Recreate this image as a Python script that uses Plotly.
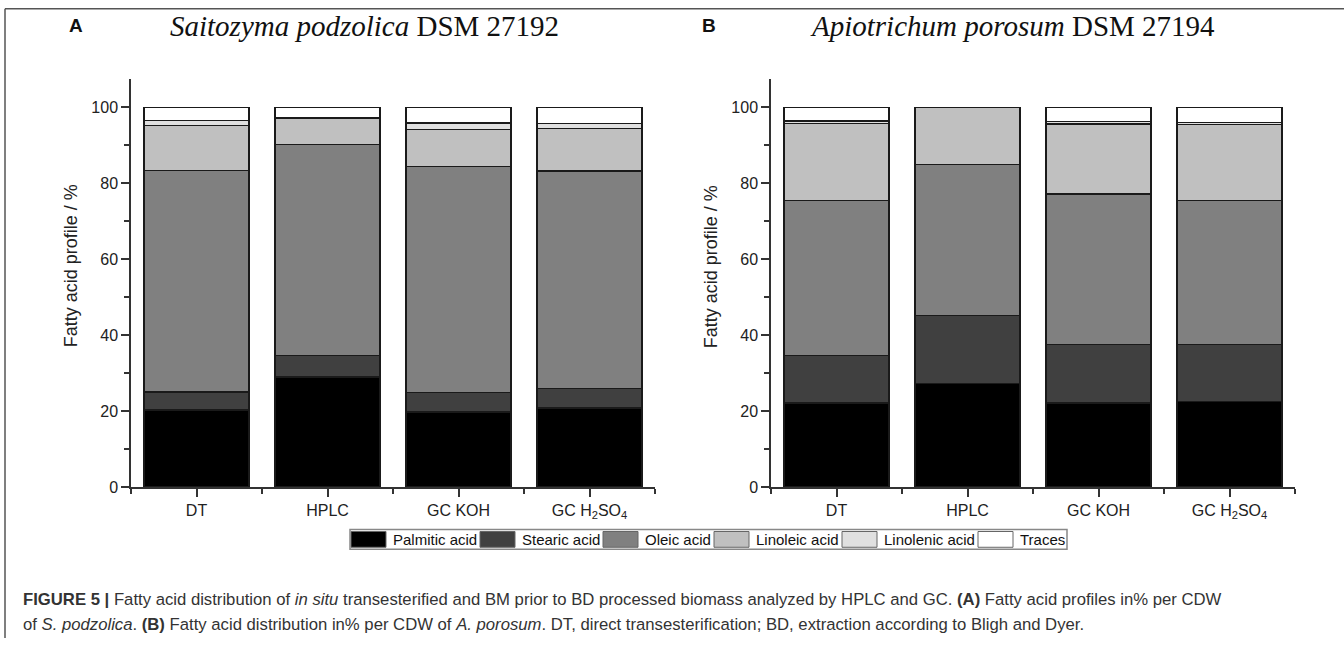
import plotly.graph_objects as go
import numpy as np

W, H = 1344, 647

categories = ["DT", "HPLC", "GC KOH", "GC H<sub>2</sub>SO<sub>4</sub>"]
series_names = ["Palmitic acid", "Stearic acid", "Oleic acid", "Linoleic acid", "Linolenic acid", "Traces"]
series_colors = ["#000000", "#404040", "#808080", "#c0c0c0", "#e0e0e0", "#ffffff"]

# Panel A: Saitozyma podzolica (segment heights, %)
a_palmitic = [20.3, 29.0, 19.8, 20.8]
a_stearic = [4.8, 5.7, 5.1, 5.2]
a_oleic = [58.2, 55.6, 59.5, 57.2]
a_linoleic = [11.9, 6.9, 9.8, 11.3]
a_linolenic = [1.3, 0.0, 1.7, 1.3]
a_traces = [3.5, 2.8, 4.1, 4.2]

# Panel B: Apiotrichum porosum (segment heights, %)
b_palmitic = [22.1, 27.3, 22.1, 22.5]
b_stearic = [12.6, 17.9, 15.5, 15.1]
b_oleic = [40.8, 39.7, 39.6, 37.8]
b_linoleic = [20.3, 15.1, 18.4, 20.1]
b_linolenic = [0.6, 0.0, 0.6, 0.5]
b_traces = [3.6, 0.0, 3.8, 4.0]

y_ticks = [0, 20, 40, 60, 80, 100]

panel_a = [a_palmitic, a_stearic, a_oleic, a_linoleic, a_linolenic, a_traces]
panel_b = [b_palmitic, b_stearic, b_oleic, b_linoleic, b_linolenic, b_traces]

def px(x):
    return x / W

def py(y):
    return 1 - y / H

xpos = np.arange(len(categories)) + 0.5

fig = go.Figure()
for panel, (xa, ya) in ((panel_a, ("x", "y")), (panel_b, ("x2", "y2"))):
    for name, color, vals in zip(series_names, series_colors, panel):
        fig.add_trace(go.Bar(
            x=xpos, y=vals, name=name, xaxis=xa, yaxis=ya, width=0.8,
            marker=dict(color=color, line=dict(color="#1a1a1a", width=1.4)),
            showlegend=False, hoverinfo="skip"))

axis_font = dict(family="Liberation Sans, Arial", size=16, color="#222")
common_x = dict(range=[0, len(categories)], tickmode="array", tickvals=list(xpos), ticktext=categories,
                ticks="outside", ticklen=8, tickwidth=1.5, tickcolor="#333",
                showline=True, linecolor="#333", linewidth=1.5, showgrid=False, zeroline=False,
                tickfont=axis_font, fixedrange=True,
                minor=dict(tickmode="linear", tick0=0, dtick=1, ticks="outside", ticklen=5,
                           tickwidth=1.5, tickcolor="#333", showgrid=False))
common_y = dict(range=[0, 107.5], tickmode="array", tickvals=y_ticks,
                ticks="outside", ticklen=8, tickwidth=1.5, tickcolor="#333",
                showline=True, linecolor="#333", linewidth=1.5, showgrid=False, zeroline=False,
                tickfont=axis_font, fixedrange=True,
                minor=dict(tickmode="linear", tick0=0, dtick=10, ticks="outside", ticklen=5,
                           tickwidth=1.5, tickcolor="#333", showgrid=False))

ydom = [py(494), py(80)]
fig.update_layout(
    width=W, height=H, margin=dict(l=0, r=0, t=0, b=0),
    paper_bgcolor="white", plot_bgcolor="white", barmode="stack", bargap=0.2,
    xaxis=dict(domain=[px(131), px(655)], anchor="y", **common_x),
    yaxis=dict(domain=ydom, anchor="x", **common_y),
    xaxis2=dict(domain=[px(771), px(1295)], anchor="y2", **common_x),
    yaxis2=dict(domain=ydom, anchor="x2", **common_y),
)

shapes = []
annotations = []

# frame lines
shapes.append(dict(type="line", xref="paper", yref="paper", x0=px(5), x1=1, y0=py(9), y1=py(9),
                   line=dict(color="#555", width=1.5)))
shapes.append(dict(type="line", xref="paper", yref="paper", x0=px(5), x1=px(5), y0=py(9), y1=0,
                   line=dict(color="#555", width=1.5)))

# y-axis titles
for cx in (71, 711):
    annotations.append(dict(text="Fatty acid profile / %", x=px(cx), y=py(270), xref="paper", yref="paper",
                            xanchor="center", yanchor="middle", textangle=-90, showarrow=False,
                            font=dict(family="Liberation Sans, Arial", size=18, color="#222")))

# panel letters and titles
for letter, lx, title, tx in (("A", 67, "<i>Saitozyma podzolica</i> DSM 27192", 168),
                              ("B", 700, "<i>Apiotrichum porosum</i> DSM 27194", 808)):
    annotations.append(dict(text="<b>%s</b>" % letter, x=px(lx), y=py(26), xref="paper", yref="paper",
                            xanchor="left", yanchor="middle", showarrow=False,
                            font=dict(family="Liberation Sans, Arial", size=19, color="#111")))
    annotations.append(dict(text=title, x=px(tx), y=py(26), xref="paper", yref="paper",
                            xanchor="left", yanchor="middle", showarrow=False,
                            font=dict(family="Liberation Serif, Times New Roman", size=29, color="#111")))

# legend (drawn manually to match the wide swatches)
label_widths = [84, 78, 66, 83, 91, 46]
x = 351
leg_y0, leg_y1 = 537, 557
start = x - 1
for name, color, wdt in zip(series_names, series_colors, label_widths):
    shapes.append(dict(type="rect", xref="paper", yref="paper", x0=px(x), x1=px(x + 35),
                       y0=py(leg_y1 - 2), y1=py(leg_y0 + 2), fillcolor=color,
                       line=dict(color="#666", width=1)))
    annotations.append(dict(text=name, x=px(x + 40), y=py((leg_y0 + leg_y1) / 2), xref="paper", yref="paper",
                            xanchor="left", yanchor="middle", showarrow=False,
                            font=dict(family="Liberation Sans, Arial", size=15, color="#111")))
    x = x + 35 + 6 + wdt + 4
shapes.append(dict(type="rect", xref="paper", yref="paper", x0=px(start), x1=px(x - 2),
                   y0=py(leg_y1), y1=py(leg_y0), line=dict(color="#888", width=1.5)))

# caption
cap_font = dict(family="Liberation Sans, Arial", size=16.7, color="#333")
line1 = ("<b>FIGURE 5 |</b> Fatty acid distribution of <i>in situ</i> transesterified and BM prior to BD "
         "processed biomass analyzed by HPLC and GC. <b>(A)</b> Fatty acid profiles in% per CDW")
line2 = ("of <i>S. podzolica</i>. <b>(B)</b> Fatty acid distribution in% per CDW of <i>A. porosum</i>. "
         "DT, direct transesterification; BD, extraction according to Bligh and Dyer.")
annotations.append(dict(text=line1, x=px(21), y=py(608), xref="paper", yref="paper", xanchor="left",
                        yanchor="middle", showarrow=False, font=cap_font))
annotations.append(dict(text=line2, x=px(21), y=py(633), xref="paper", yref="paper", xanchor="left",
                        yanchor="middle", showarrow=False, font=cap_font))

fig.update_layout(shapes=shapes, annotations=annotations)
fig.write_html("out.html")
